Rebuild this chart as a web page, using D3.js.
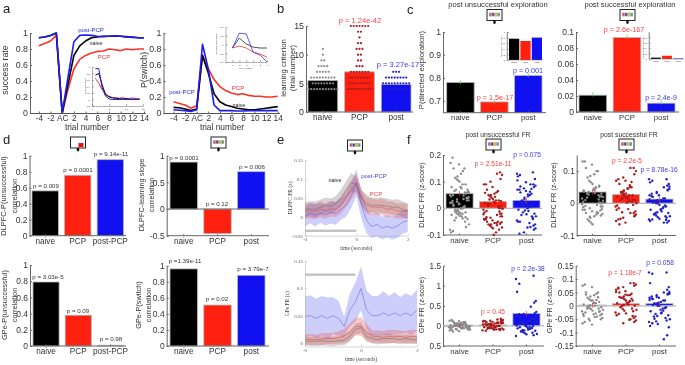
<!DOCTYPE html>
<html>
<head>
<meta charset="utf-8">
<script src="https://cdn.jsdelivr.net/npm/d3@7"></script>
<style>
  body { margin: 0; background: #fff; }
  svg { display: block; filter: blur(0.3px); }
  text { font-family: "Liberation Sans", Arial, sans-serif; fill: #333; }
  .domain, .tick line { stroke: #666; }
</style>
</head>
<body>
<div id="chart"></div>
<script>
const width = 685
const height = 365

const colors = { naive: '#000000', PCP: '#ff2010', post: '#1010f0' }
const dotColors = { naive: '#8c8c8c', PCP: '#a51c1c', post: '#2020c8' }
const groups = ['naive', 'PCP', 'post']

// panel a, trial -4 .. 14 with AC at 0
const trials = d3.range(-4, 15)
const successPost = [.94, .95, .97, 1, 0, .45, .89, .97, .975, .97, .96, .955, .96, .965, .96, .955, .945, .94, .94]
const successNaive = [.94, .95, .97, 1, 0, .36, .72, .84, .9, .94, .95, .96, .96, .96, .96, .95, .95, .94, .94]
const successPCP = [.84, .87, .9, .97, 0, .3, .55, .67, .72, .75, .77, .775, .8, .79, .78, .8, .79, .8, .8]
const switchPost = [.04, .035, .03, .02, .04, .86, .55, .1, .03, .03, .03, .025, .025, .03, .03, .03, .03, .03, .03]
const switchNaive = [.07, .065, .05, .03, .05, .72, .5, .24, .14, .1, .08, .06, .05, .04, .04, .05, .06, .07, .08]
const switchPCP = [.14, .12, .1, .06, .09, .72, .55, .42, .33, .28, .25, .23, .24, .22, .21, .21, .2, .2, .21]

const slopeTrials = d3.range(1, 15)
const slopePost = [.95, .95, .35, .1, .02, 0, 0, 0, 0, 0, 0, 0, 0, 0]
const slopeNaive = [.75, .8, .45, .15, .08, .05, .04, .02, .02, .02, .01, .01, .01, .01]
const slopePCP = [.65, .5, .3, .18, .1, .06, .05, .04, .06, .03, .03, .05, .02, .02]
const corrTrials = d3.range(1, 7)
const corrPost = [-.12, .39, .36, -.26, -.36, -.6]
const corrNaive = [-.12, .22, .02, -.09, -.12, -.12]
const corrPCP = [-.12, -.05, -.12, -.26, -.33, -.43]

// panel b, learning criterion: [trial number, animals]
const criterionNaive = [[4, 11], [5, 8], [6, 9], [7, 5], [8, 4], [9, 2], [10, 1], [11, 1]]
const criterionPCP = [[4, 9], [5, 8], [6, 8], [7, 7], [8, 3], [9, 2], [10, 2], [11, 3], [12, 2], [13, 1], [14, 2], [15, 7]]
const criterionPost = [[4, 8], [5, 10], [6, 8], [7, 3]]
const criterionMeans = [5.5, 7, 4.8]

// panels c and d, bar heights
const explUnsucc = [.78, .695, .81]
const explSucc = [.021, .093, .011]
const explUnsuccInset = [.76, .68, .8]
const explSuccInset = [.005, .012, .002]
const dlpfcUnsucc = [.56, .755, .95]
const dlpfcSlope = [.88, -.46, .7]
const gpeUnsucc = [.79, .38, .01]
const gpeSwitch = [.96, .51, .88]

// panel e, t = -2 .. 2 in 0.2 steps
const times = d3.range(21).map(i => -2 + i * 0.2)
const dlpfcNaive = [.02, .021, .019, .025, .03, .028, .035, .05, .07, .09, .085, .05, .036, .03, .031, .03, .028, .025, .026, .02, .015]
const dlpfcNaiveErr = [.02, .02, .022, .02, .021, .02, .02, .022, .024, .026, .02, .02, .022, .02, .02, .021, .02, .02, .02, .021, .02]
const dlpfcPost = [0, .01, .004, .01, .005, .012, .009, .02, .03, .055, .09, .03, -.01, -.026, -.02, -.03, -.025, -.03, -.024, -.015, -.01]
const dlpfcPostErr = [.026, .027, .03, .026, .028, .03, .03, .028, .03, .032, .036, .036, .034, .03, .032, .03, .03, .03, .032, .03, .03]
const dlpfcPCP = [.015, .016, .014, .02, .015, .021, .02, .03, .05, .07, .09, .05, .03, .026, .025, .026, .02, .021, .015, .016, .015]
const dlpfcPCPErr = [.02, .02, .02, .021, .02, .02, .02, .022, .023, .025, .025, .023, .022, .022, .02, .022, .021, .02, .02, .02, .02]

const gpeNaive = [.004, .003, .003, .004, .003, .003, .004, .005, .012, .025, .028, .012, .008, .006, .008, .008, .008, .006, .008, .006, .006]
const gpeNaiveErr = [.008, .008, .009, .008, .008, .009, .008, .009, .01, .01, .01, .01, .009, .009, .008, .009, .008, .009, .008, .008, .008]
const gpePost = [.048, .05, .045, .05, .045, .05, .045, .03, .06, .075, .1, .06, .05, .05, .055, .05, .055, .05, .055, .05, .06]
const gpePostErr = [.038, .037, .036, .036, .038, .034, .032, .018, .03, .036, .04, .036, .036, .036, .04, .036, .038, .034, .036, .036, .038]
const gpePCP = [.007, .006, .006, .007, .008, .008, .01, .013, .02, .03, .03, .02, .012, .012, .01, .012, .012, .012, .01, .012, .012]
const gpePCPErr = [.01, .01, .009, .011, .01, .01, .011, .013, .015, .016, .017, .015, .011, .011, .012, .012, .012, .011, .012, .012, .012]

// panel f, firing rates per session
const frMeansA = [.055, .025, .03]
const frA = [
  [.19, .17, .165, .15, .15, .14, .13, .12, .115, .11, .105, .1, .09, .09, .08, .08, .075, .07, .07, .065, .06, .06, .055, .05, .05, .045, .04, .04, .035, .03, .03, .025, .02, .02, .015, .01, .005, 0, 0, -.005, -.005, -.01, -.01, -.015, -.015, -.02, -.02, -.025, -.03, -.035, -.04, -.045, -.05, -.06, -.07, -.08, -.085, -.09, .062, .058, .048, .042, .038, .033, .028, .022, .018, .012, .008, .003, -.002, -.008, -.012, -.018, -.022, -.028, -.033, -.038],
  [.135, .13, .125, .11, .1, .09, .09, .08, .07, .065, .06, .055, .05, .05, .045, .04, .035, .03, .03, .025, .02, .02, .015, .01, .01, .005, 0, 0, -.005, -.01, -.015, -.02, -.02, -.025, -.03, -.03, -.035, -.04, -.04, -.045, -.05, -.05, -.055, -.055, -.06, -.06, -.065, -.07, -.075, -.08, -.09, -.1, .058, .043, .033, .027, .017, .007, -.002, -.012, -.022, -.033, -.043, -.052, -.058, -.063, -.072],
  [.135, .13, .125, .12, .11, .09, .09, .085, .08, .075, .07, .07, .065, .06, .055, .05, .045, .04, .03, .025, .02, .015, .01, .005, 0, -.005, -.01, -.015, -.02, -.025, -.03, -.03, -.04, -.045, -.05, -.05, -.06, -.065, -.07, -.075, -.08, -.09, -.095, .105, .098, .082, .073, .062, .052, .035, .022, .012, -.008, -.022, -.035, -.055, -.072]
]
const frMeansB = [.035, .027, .013]
const frB = [
  [.13, .13, .12, .11, .1, .1, .09, .085, .08, .07, .065, .06, .055, .05, .045, .04, .04, .035, .03, .03, .025, .02, .02, .015, .01, .005, 0, 0, -.005, -.01, -.01, -.015, -.02, -.02, -.025, -.03, -.03, -.035, -.04, -.045, -.05, -.055, -.06, -.065, .052, .047, .042, .037, .032, .027, .022, .018, .012, .008, .003, -.003, -.008, -.012, -.018, -.022, -.028, -.033, -.038, -.042],
  [.11, .11, .1, .09, .08, .075, .07, .07, .06, .05, .05, .045, .04, .035, .035, .03, .03, .025, .025, .02, .02, .015, .015, .01, .01, .005, 0, -.005, -.01, -.015, -.02, -.025, -.03, -.03, -.035, -.04, -.045, -.05, -.055, -.06, -.065, .066, .056, .046, .038, .033, .028, .022, .018, .012, .007, .002, -.007, -.018, -.028, -.038, -.048],
  [.075, .075, .07, .065, .06, .055, .05, .045, .04, .035, .03, .025, .025, .02, .015, .015, .01, .01, .005, 0, 0, -.005, -.01, -.015, -.02, -.02, -.025, -.03, -.03, -.035, -.04, -.04, -.045, -.05, -.05, -.055, -.055, -.06, -.06, .052, .042, .032, .022, .012, .007, .002, -.007, -.012, -.018, -.028, -.033, -.038, -.043, -.048, -.052]
]
const frMeansC = [.02, .025, .31]
const frC = [
  [.15, .13, .12, .11, .1, .09, .08, .07, .06, .05, .05, .04, .03, .03, .02, .02, .01, .01, 0, 0, -.01, -.01, -.02, -.03, -.03, -.04, -.05, -.05, -.06, -.07, -.08, -.09, -.1, -.11, -.13, -.14, .065, .045, .035, .025, .015, .005, -.005, -.015, -.025, -.035, -.045, -.055, -.065, -.075, -.085, .085, .055, -.095],
  [.18, .16, .15, .14, .13, .12, .11, .1, .09, .08, .07, .06, .05, .04, .03, .02, .01, 0, -.01, -.02, -.03, -.04, -.05, -.06, -.07, -.08, -.09, -.1, -.11, -.12, .125, .105, .095, .085, .075, .065, .055, .045, .035, .025, .015, .005, -.005, -.015, -.025, -.035, -.045, -.055, -.065, -.075, -.085, -.095],
  [1.25, 1.17, 1.05, .85, .62, .58, .48, .35, .32, .3, .28, .25, .22, .2, .18, .15, .12, .1, .08, .05, .03, .02, 0, -.02, -.04, -.06, -.08, -.1, -.12, -.14, -.17, -.2, -.23, -.25, .29, .24, .21, .17, .14, .11, .09, .07, .04, .01, -.01, -.03, -.05, -.07, -.09, -.11, -.13, -.15, -.18, -.21]
]
const frMeansD = [.003, .008, .008]
const frD = [
  [.08, .075, .07, .05, .05, .045, .04, .035, .03, .025, .02, .02, .015, .01, .01, .005, 0, 0, -.005, -.01, -.01, -.015, -.02, -.02, -.025, -.03, -.03, -.035, -.04, -.045, -.05, -.055, -.06, -.065, -.07, .042, .032, .022, .012, .002, -.003, -.008, -.012, -.018, -.022, -.028, -.032, -.038, -.042, -.048],
  [.085, .085, .08, .075, .07, .065, .06, .055, .05, .045, .04, .04, .035, .03, .03, .025, .02, .02, .015, .01, .01, .005, 0, 0, -.005, -.01, -.015, -.02, -.025, -.03, -.035, -.04, -.045, -.05, -.055, -.06, -.065, .068, .052, .042, .033, .027, .018, .012, .003, -.003, -.012, -.018, -.028, -.038, -.052],
  [.125, .125, .12, .085, .07, .06, .05, .045, .045, .04, .035, .03, .03, .025, .02, .02, .015, .01, .01, .005, 0, 0, -.005, -.01, -.015, -.02, -.025, -.03, -.035, -.04, -.045, -.05, -.055, -.06, -.065, -.075, -.08, -.11, -.125, .052, .042, .033, .028, .022, .012, .003, -.008, -.018, -.028, -.038, -.048, -.058, -.068]
]
// fixed sideways offsets for the dots, -1 .. 1
const jitter = [-.7, .3, .85, -.2, .55, -.9, .1, .7, -.45, .95, -.05, -.8, .4, -.3, .65, -.6, .2, .9, -.15, -.95, .5, -.35, .75, 0, -.65, .35, .8, -.25, .6, -.85, .15, -.5]

const svg = d3
  .select('#chart')
  .append('svg')
  .attr('width', width)
  .attr('height', height)

function label(x, y, str, size, color, anchor, rotate, family) {
  const t = svg
    .append('text')
    .attr('x', x)
    .attr('y', y)
    .attr('font-size', size)
    .attr('text-anchor', anchor || 'middle')
    .style('fill', color || '#333')
    .text(str)
  if (rotate) t.attr('transform', `rotate(-90 ${x} ${y})`)
  if (family) t.style('font-family', family)
  return t
}

function leftAxis(x, scale, ticks, fmt, size, family) {
  const g = svg
    .append('g')
    .attr('transform', `translate(${x},0)`)
    .call(
      d3
        .axisLeft(scale)
        .tickValues(ticks)
        .tickFormat(fmt)
        .tickSize(-2)
        .tickSizeOuter(0)
        .tickPadding(2)
    )
  g.attr('font-family', null)
  g.selectAll('text').attr('font-size', size)
  if (family) g.selectAll('text').style('font-family', family)
  return g
}

function bottomAxis(y, scale, ticks, fmt, size, family) {
  const g = svg
    .append('g')
    .attr('transform', `translate(0,${y})`)
    .call(
      d3
        .axisBottom(scale)
        .tickValues(ticks)
        .tickFormat(fmt)
        .tickSize(-2)
        .tickSizeOuter(0)
        .tickPadding(2)
    )
  g.attr('font-family', null)
  g.selectAll('text').attr('font-size', size)
  if (family) g.selectAll('text').style('font-family', family)
  return g
}

// bars with grey edges plus a category axis along the bottom
function barPanel(o) {
  const y = d3.scaleLinear().domain(o.domain).range(o.range)
  const x = d3
    .scaleBand()
    .domain(d3.range(o.values.length))
    .range(o.bars)
    .paddingInner(o.gap || 0.19)
  const zero = Math.max(0, o.domain[0])

  svg
    .append('g')
    .selectAll('rect')
    .data(o.values)
    .enter()
    .append('rect')
    .attr('x', (d, i) => x(i))
    .attr('width', x.bandwidth())
    .attr('y', d => y(Math.max(zero, d)))
    .attr('height', d => Math.abs(y(d) - y(zero)))
    .attr('fill', (d, i) => colors[groups[i]])
    .attr('stroke', o.edge || '#b5b5b5')
    .attr('stroke-width', o.edgeWidth === undefined ? 0.8 : o.edgeWidth)

  if (o.ticks) leftAxis(o.axisX, y, o.ticks, o.tickFmt || (d => d), o.tickSize || 8.5)
  else
    svg
      .append('line')
      .attr('x1', o.axisX)
      .attr('x2', o.axisX)
      .attr('y1', o.range[0])
      .attr('y2', o.range[1])
      .attr('stroke', '#777')
      .attr('stroke-width', 0.5)

  const base = o.range[0]
  svg
    .append('line')
    .attr('x1', o.axisX)
    .attr('x2', o.axisEnd)
    .attr('y1', base)
    .attr('y2', base)
    .attr('stroke', '#666')
    .attr('stroke-width', o.ticks ? 1 : 0.5)

  if (o.zeroLine) {
    svg
      .append('line')
      .attr('x1', o.axisX)
      .attr('x2', o.axisEnd)
      .attr('y1', y(0))
      .attr('y2', y(0))
      .attr('stroke', o.zeroColor || '#666')
      .attr('stroke-width', o.zeroWidth || 1)
  }

  const names = o.names || groups
  const catAxis = svg
    .append('g')
    .attr('transform', `translate(0,${base})`)
    .call(d3.axisBottom(x).tickSize(o.ticks ? -1.5 : 0).tickPadding(o.ticks ? 2 : 1).tickFormat(i => names[i]))
  catAxis.attr('font-family', null)
  catAxis.select('.domain').remove()
  catAxis.selectAll('text').attr('font-size', o.catSize || 8.2)
  return { x, y }
}

function seriesLines(xScale, yScale, xs, series, strokeWidth) {
  const line = d3
    .line()
    .x((d, i) => xScale(xs[i]))
    .y(d => yScale(d))
  series.forEach(s => {
    svg
      .append('path')
      .datum(s.values)
      .attr('fill', 'none')
      .attr('stroke', s.color)
      .attr('stroke-width', strokeWidth)
      .attr('stroke-linejoin', 'round')
      .attr('d', line)
  })
}

// monitor icon above the panels, red square or colour strip inside
function monitor(x, y, red) {
  svg.append('rect').attr('x', x).attr('y', y).attr('width', 15).attr('height', 11)
    .attr('fill', '#fff').attr('stroke', '#222').attr('stroke-width', 1)
  if (red) {
    svg.append('rect').attr('x', x + 8).attr('y', y + 6).attr('width', 5).attr('height', 4).attr('fill', '#f01010')
  } else {
    svg.append('rect').attr('x', x + 2).attr('y', y + 3).attr('width', 11).attr('height', 4).attr('fill', '#c8b8a0')
    ;['#d040a0', '#3030c0', '#e0c020', '#30a0c0'].forEach((c, i) => {
      svg.append('rect').attr('x', x + 2.5 + i * 2.8).attr('y', y + 3.8).attr('width', 1.8).attr('height', 2.4).attr('fill', c)
    })
  }
  svg.append('ellipse').attr('cx', x + 7.5).attr('cy', y + 12.5).attr('rx', 1.3).attr('ry', 2).attr('fill', '#111')
}

/* ---------- a ---------- */
label(3, 13, 'a', 13, '#222', 'start')

const aX = d3.scaleLinear().domain([0, 14]).range([62.2, 144])
const aY = d3.scaleLinear().domain([0, 1]).range([113, 33])
const trialTicks = [-4, -2, 0, 2, 4, 6, 8, 10, 12, 14]
const trialFmt = d => (d === 0 ? 'AC' : d)
const oneFmt = d => d

seriesLines(aX, aY, trials, [
  { values: successPCP, color: '#ff3028' },
  { values: successNaive, color: '#000' },
  { values: successPost, color: '#1c1cf0' }
], 1.6)
leftAxis(30, aY, [0, .2, .4, .6, .8, 1], oneFmt, 8.8)
svg.append('line').attr('x1', 30).attr('x2', 146).attr('y1', 113.5).attr('y2', 113.5).attr('stroke', '#555')
const aAxis = bottomAxis(113.5, aX, trialTicks, trialFmt, 8.3)
aAxis.select('.domain').remove()
label(8, 70, 'success rate', 8.8, '#333', 'middle', true)
label(87, 130, 'trial number', 8.4)
label(91, 32, 'post-PCP', 6, '#2a2ae8')
label(96, 45, 'naive', 5.5, '#222')
label(104, 59, 'PCP', 6, '#f03030')

const slopeX = d3.scaleLinear().domain([0, 15]).range([92, 143])
const slopeY = d3.scaleLinear().domain([-.2, 1]).range([106, 67])
seriesLines(slopeX, slopeY, slopeTrials, [
  { values: slopePCP, color: '#ff3028' },
  { values: slopeNaive, color: '#000' },
  { values: slopePost, color: '#1c1cf0' }
], 1)
leftAxis(92, slopeY, [-.2, 0, .2, .4, .6, .8, 1], oneFmt, 2.5).selectAll('.domain, .tick line').style('stroke-width', .5)
bottomAxis(106, slopeX, [0, 5, 10, 15], oneFmt, 2.5).selectAll('.domain, .tick line').style('stroke-width', .5)
label(86, 86, 'learning slope', 2.5, '#555', 'middle', true)

const swX = d3.scaleLinear().domain([0, 14]).range([196.7, 277.7])
seriesLines(swX, aY, trials, [
  { values: switchPCP, color: '#ff3028' },
  { values: switchNaive, color: '#000' },
  { values: switchPost, color: '#1c1cf0' }
], 1.6)
leftAxis(163.5, aY, [0, .2, .4, .6, .8, 1], oneFmt, 8.8)
svg.append('line').attr('x1', 163.5).attr('x2', 280).attr('y1', 113.5).attr('y2', 113.5).attr('stroke', '#555')
const swG = bottomAxis(113.5, swX, trialTicks, trialFmt, 8.3)
swG.select('.domain').remove()
label(147, 70, 'P(switch)', 8.8, '#333', 'middle', true)
label(222, 130, 'trial number', 8.4)
label(182, 94, 'post-PCP', 6, '#2a2ae8')
label(238, 90, 'PCP', 6, '#f03030')
label(239, 107, 'naive', 5.5, '#222')

const corrX = d3.scaleLinear().domain([0, 6]).range([225.5, 267])
const corrY = d3.scaleLinear().domain([-.6, .6]).range([62, 27])
seriesLines(corrX, corrY, corrTrials, [
  { values: corrPCP, color: '#ff3028' },
  { values: corrNaive, color: '#222' },
  { values: corrPost, color: '#3030f0' }
], .8)
leftAxis(225.5, corrY, [-.6, -.3, 0, .3, .6], oneFmt, 2.5).selectAll('.domain, .tick line').style('stroke-width', .5)
bottomAxis(62, corrX, [1, 2, 3, 4, 5, 6], oneFmt, 2.2).selectAll('.domain, .tick line').style('stroke-width', .5)
label(217, 44, 'learning correlation', 2.5, '#555', 'middle', true)
label(246, 69, 'trial number', 2.5, '#555')

/* ---------- b ---------- */
label(277, 13, 'b', 13, '#222', 'start')

const bp = barPanel({
  values: criterionMeans, domain: [0, 15], range: [112, 26], bars: [308, 411], gap: .19,
  axisX: 306, axisEnd: 413, ticks: [0, 5, 10, 15], tickSize: 8.8, catSize: 8.2
})
label(286, 68, 'learning criterion', 7.8, '#333', 'middle', true)
label(295, 68, '(trial number)', 7.8, '#333', 'middle', true)
label(360, 23, 'p = 1.24e-42', 7.5, '#ff4040')
label(398, 67, 'p = 3.27e-17', 7.5, '#3636f0')

;[criterionNaive, criterionPCP, criterionPost].forEach((rows, g) => {
  const mid = bp.x(g) + bp.x.bandwidth() / 2
  rows.forEach(([v, n]) => {
    d3.range(n).forEach(i => {
      svg.append('circle')
        .attr('cx', mid + (i - (n - 1) / 2) * 2.9)
        .attr('cy', bp.y(v))
        .attr('r', 1.1)
        .attr('fill', dotColors[groups[g]])
    })
  })
})

/* ---------- c ---------- */
label(407, 14, 'c', 13, '#222', 'start')
label(498, 7, 'post unsuccessful exploration', 7.6)
label(630, 7, 'post successful exploration', 7.6)
monitor(487, 9.5, false)
monitor(620, 9.5, false)

const cA = barPanel({
  values: explUnsucc, domain: [.648, 1], range: [112.7, 32], bars: [446.7, 542], gap: .19,
  axisX: 443, axisEnd: 546, ticks: [.7, .8, .9, 1], catSize: 7.8
})
label(424, 70, 'P(directed exploration)', 7.8, '#333', 'middle', true)
label(495, 100, 'p = 1.5e-17', 7.2, '#ff4040')
label(528, 73, 'p = 0.001', 7.2, '#3636f0')

const cB = barPanel({
  values: explSucc, domain: [0, .1], range: [112, 32], bars: [579, 675], gap: .19,
  axisX: 576, axisEnd: 679, ticks: [0, .02, .04, .06, .08, .1], catSize: 7.8
})
label(624, 32, 'p = 2.6e-167', 7.2, '#ff4040')
label(661, 100, 'p = 2.4e-9', 7, '#3636f0')

;[[cA, explUnsucc, .006], [cB, explSucc, .0015]].forEach(([p, vals, e]) => {
  svg.append('g').selectAll('line').data(vals).enter().append('line')
    .attr('x1', (d, i) => p.x(i) + p.x.bandwidth() / 2)
    .attr('x2', (d, i) => p.x(i) + p.x.bandwidth() / 2)
    .attr('y1', d => p.y(d - e))
    .attr('y2', d => p.y(d + e * (e > .005 ? 1.5 : 2.5)))
    .attr('stroke', '#58d858')
    .attr('stroke-width', .8)
})

const insetA = barPanel({
  values: explUnsuccInset, domain: [0, 1], range: [60, 32], bars: [509, 542], gap: .1,
  axisX: 507, axisEnd: 543, catSize: 2.5, edge: 'none', edgeWidth: 0
})
leftAxis(507, insetA.y, [0, .2, .4, .6, .8, 1], oneFmt, 2.2).selectAll('.domain, .tick line').style('stroke-width', .5)
label(502, 46, 'P(directed exploration)', 2.2, '#666', 'middle', true)
const insetB = barPanel({
  values: explSuccInset, domain: [0, .1], range: [59, 32], bars: [651, 683], gap: .12,
  axisX: 649, axisEnd: 684, catSize: 2.5, edge: 'none', edgeWidth: 0
})
leftAxis(649, insetB.y, [0, .02, .04, .06, .08], oneFmt, 2.2).selectAll('.domain, .tick line').style('stroke-width', .5)
label(644, 48, 'P(directed exploration)', 2.2, '#666', 'middle', true)

/* ---------- d ---------- */
label(3, 144, 'd', 13, '#222', 'start')
monitor(70.5, 137, true)
monitor(211, 137, false)

const dNames = ['naive', 'PCP', 'post-PCP']
barPanel({
  values: dlpfcUnsucc, domain: [0, 1], range: [235.7, 155.7], bars: [32, 123.5], gap: .19,
  axisX: 29.5, axisEnd: 126, ticks: [0, .2, .4, .6, .8, 1], names: dNames
})
label(6, 196, 'DLPFC-P(unsuccessful)', 7.4, '#333', 'middle', true)
label(17, 196, 'correlation', 7.4, '#333', 'middle', true)
label(46, 188, 'p = 0.009', 6.2)
label(78, 172, 'p = 0.0001', 6.2)
label(111, 156, 'p = 9.14e-11', 6.2)

barPanel({
  values: dlpfcSlope, domain: [-.5, 1], range: [235.7, 155.7], bars: [170, 265], gap: .19,
  axisX: 166.7, axisEnd: 269, ticks: [-.5, 0, .5, 1], tickFmt: d => d, zeroLine: true
})
label(144, 195, 'DLPFC-learning slope', 7.4, '#333', 'middle', true)
label(154, 195, 'correlation', 7.4, '#333', 'middle', true)
label(184, 160, 'p = 0.0001', 6.2)
label(217, 206, 'p = 0.12', 6.2)
label(252, 169, 'p = 0.006', 6.2)

barPanel({
  values: gpeUnsucc, domain: [0, 1], range: [346, 265], bars: [33, 123.5], gap: .19,
  axisX: 30, axisEnd: 126, ticks: [0, .2, .4, .6, .8, 1], names: dNames
})
label(7, 305, 'GPe-P(unsuccessful)', 7.4, '#333', 'middle', true)
label(17, 305, 'correlation', 7.4, '#333', 'middle', true)
label(48, 279, 'p = 3.03e-5', 6.2)
label(78, 313, 'p = 0.09', 6.2)
label(111, 341, 'p = 0.98', 6.2)

barPanel({
  values: gpeSwitch, domain: [0, 1], range: [346, 265.7], bars: [170, 265], gap: .19,
  axisX: 166.7, axisEnd: 269, ticks: [0, .2, .4, .6, .8, 1]
})
label(141, 305, 'GPe-P(switch)', 7.4, '#333', 'middle', true)
label(151, 305, 'correlation', 7.4, '#333', 'middle', true)
label(185, 263, 'p =1.39e-11', 6.2)
label(217, 301, 'p = 0.02', 6.2)
label(253, 271, 'p = 3.79e-7', 6.2)

/* ---------- e ---------- */
label(277, 144, 'e', 13, '#222', 'start')
monitor(347.5, 140, false)

const serif = '"Liberation Serif", serif'

function bandPanel(o) {
  const x = d3.scaleLinear().domain([-2, 2]).range(o.xRange)
  const y = d3.scaleLinear().domain(o.domain).range(o.range)
  const area = errs =>
    d3.area()
      .x((d, i) => x(times[i]))
      .y0((d, i) => y(d - errs[i]))
      .y1((d, i) => y(d + errs[i]))
  o.series.forEach(s => {
    svg.append('path').datum(s.mean).attr('d', area(s.err)).attr('fill', s.color).attr('fill-opacity', s.opacity)
  })
  seriesLines(x, y, times, o.series.map(s => ({ values: s.mean, color: s.line })), .5)
  svg.append('rect')
    .attr('x', x(-2))
    .attr('width', x(o.barEnd) - x(-2))
    .attr('y', y(o.barAt) - 1.2)
    .attr('height', 2.4)
    .attr('fill', '#c2c2c2')
  const ya = leftAxis(o.xRange[0], y, o.ticks, d3.format('~g'), 5, serif)
  ya.selectAll('.domain, .tick line').style('stroke', '#aaa').style('stroke-width', .5)
  ya.selectAll('text').style('fill', '#555')
  const xa = bottomAxis(o.range[0], x, [-2, 0, 2], d => d, 5, serif)
  xa.selectAll('.domain, .tick line').style('stroke', '#aaa').style('stroke-width', .5)
  xa.selectAll('text').style('fill', '#555')
  label(o.labelX, (o.range[0] + o.range[1]) / 2, o.yLabel, 5.5, '#444', 'middle', true, serif)
  label(d3.mean(o.xRange), o.range[0] + 14, 'time (seconds)', 5.5, '#444', 'middle', false, serif)
}

bandPanel({
  xRange: [305, 407.7], domain: [-.05, .15], range: [235.7, 160], barEnd: 0, barAt: -.037,
  ticks: [-.05, 0, .05, .1, .15], labelX: 292, yLabel: 'DLPFC FR (z)',
  series: [
    { mean: dlpfcNaive, err: dlpfcNaiveErr, color: '#808080', opacity: .35, line: '#666' },
    { mean: dlpfcPost, err: dlpfcPostErr, color: '#4d50ee', opacity: .28, line: '#5558e8' },
    { mean: dlpfcPCP, err: dlpfcPCPErr, color: '#ec4a4a', opacity: .28, line: '#c84a4a' }
  ]
})
label(335, 182, 'naive', 5.5, '#222')
label(374, 178, 'post-PCP', 6, '#4040e0')
label(376, 196, 'PCP', 6, '#f04040')

bandPanel({
  xRange: [305, 417], domain: [-.0065, .15], range: [346.5, 261], barEnd: -.2, barAt: .125,
  ticks: [0, .05, .1, .15], labelX: 289, yLabel: 'GPe FR (z)',
  series: [
    { mean: gpeNaive, err: gpeNaiveErr, color: '#808080', opacity: .35, line: '#666' },
    { mean: gpePost, err: gpePostErr, color: '#4d50ee', opacity: .28, line: '#5558e8' },
    { mean: gpePCP, err: gpePCPErr, color: '#ec4a4a', opacity: .3, line: '#c84a4a' }
  ]
})

/* ---------- f ---------- */
label(407, 144, 'f', 13, '#222', 'start')
label(498, 137, 'post unsuccessful FR', 6.8)
label(629, 137, 'post successful FR', 6.8)
monitor(486, 139, false)
monitor(619, 139, false)

function frPanel(o) {
  const p = barPanel({
    values: o.means, domain: o.domain, range: o.range, bars: o.bars, gap: .19,
    axisX: o.axisX, axisEnd: o.axisEnd, ticks: o.ticks, tickFmt: o.tickFmt, tickSize: 8.2,
    catSize: 7.8, zeroLine: true, zeroColor: '#b8b8b8', zeroWidth: 1.2
  })
  o.dots.forEach((vals, g) => {
    const mid = p.x(g) + p.x.bandwidth() / 2
    svg.append('g').selectAll('circle').data(vals).enter().append('circle')
      .attr('cx', (d, i) => mid + jitter[(i * 5 + g * 7) % jitter.length] * o.spread)
      .attr('cy', d => p.y(d))
      .attr('r', 1.2)
      .attr('fill', dotColors[groups[g]])
    svg.append('line')
      .attr('x1', mid).attr('x2', mid)
      .attr('y1', p.y(o.means[g]) - 2.5).attr('y2', p.y(o.means[g]) + 2.5)
      .attr('stroke', '#f03030').attr('stroke-width', .7)
  })
}

frPanel({
  means: frMeansA, dots: frA, domain: [-.1, .2], range: [235, 155], bars: [446, 540], spread: 10,
  axisX: 443, axisEnd: 542, ticks: [-.1, 0, .1, .2]
})
label(424, 195, 'DLPFC FR (z-score)', 7.2, '#333', 'middle', true)
label(493, 166, 'p = 2.51e-11', 6.6, '#ff4040')
label(527, 157, 'p = 0.075', 6.6, '#3636f0')

frPanel({
  means: frMeansB, dots: frB, domain: [-.1, .15], range: [235.5, 155], bars: [579, 673], spread: 11,
  axisX: 576.7, axisEnd: 676, ticks: [-.1, 0, .1]
})
label(556, 195, 'DLPFC FR (z-score)', 7.2, '#333', 'middle', true)
label(627, 163, 'p = 2.2e-5', 6.6, '#ff4040')
label(659, 172, 'p = 8.78e-16', 6.6, '#3636f0')

frPanel({
  means: frMeansC, dots: frC, domain: [-.5, 1.5], range: [346, 265.7], bars: [446, 540], spread: 11,
  axisX: 443, axisEnd: 544, ticks: [-.5, 0, .5, 1, 1.5], tickFmt: d => (d === -.5 ? '0.5' : d)
})
label(424, 305, 'GPe FR (z-score)', 7.2, '#333', 'middle', true)
label(493, 314, 'p = 0.45', 6.6, '#ff4040')
label(528, 271, 'p = 2.2e-38', 6.6, '#3636f0')

frPanel({
  means: frMeansD, dots: frD, domain: [-.15, .15], range: [346, 265.7], bars: [579, 673], spread: 11,
  axisX: 575.7, axisEnd: 676, ticks: [-.15, -.1, -.05, 0, .05, .1, .15]
})
label(552, 305, 'GPe FR (z-score)', 7.2, '#333', 'middle', true)
label(625, 275, 'p = 1.18e-7', 6.6, '#ff4040')
label(660, 265, 'p = 0.058', 6.6, '#3636f0')
</script>
</body>
</html>
